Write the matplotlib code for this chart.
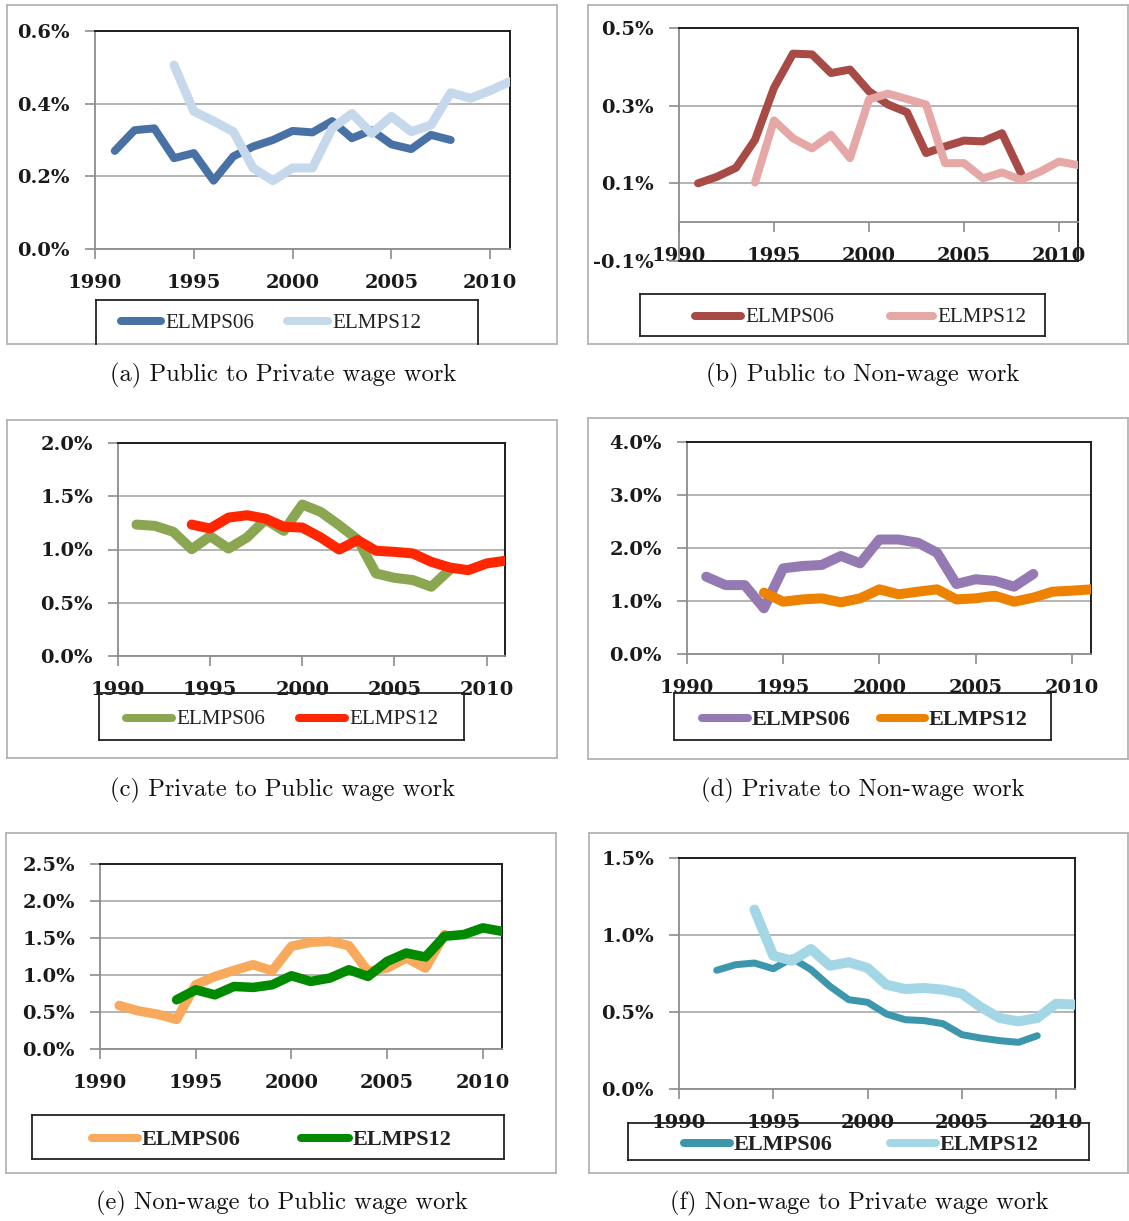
import matplotlib
matplotlib.use("Agg")
import matplotlib.pyplot as plt
from matplotlib.lines import Line2D
from matplotlib.ticker import FuncFormatter

# ---- data: annual transition rates (%) by survey wave ----
years_ticks = [1990, 1995, 2000, 2005, 2010]
series_names = ["ELMPS06", "ELMPS12"]

a06_start, a12_start = 1991, 1994
a06 = [0.27, 0.327, 0.332, 0.25, 0.264, 0.188, 0.255, 0.282, 0.30, 0.325,
       0.321, 0.352, 0.305, 0.327, 0.288, 0.275, 0.314, 0.30]
a12 = [0.506, 0.379, 0.352, 0.323, 0.223, 0.188, 0.223, 0.223, 0.332, 0.373,
       0.318, 0.365, 0.323, 0.341, 0.43, 0.415, 0.436, 0.461]

b06_start, b12_start = 1991, 1994
b06 = [0.10, 0.117, 0.14, 0.212, 0.346, 0.434, 0.432, 0.384, 0.393, 0.337,
       0.303, 0.283, 0.178, 0.195, 0.21, 0.208, 0.229, 0.126]
b12 = [0.102, 0.262, 0.216, 0.19, 0.225, 0.165, 0.316, 0.331, 0.317, 0.303,
       0.152, 0.152, 0.113, 0.128, 0.109, 0.13, 0.156, 0.147]

c06_start, c12_start = 1991, 1994
c06 = [1.234, 1.222, 1.166, 1.003, 1.125, 1.009, 1.113, 1.281, 1.175, 1.422,
       1.353, 1.228, 1.094, 0.775, 0.734, 0.713, 0.65, 0.81]
c12 = [1.234, 1.197, 1.30, 1.322, 1.29, 1.213, 1.206, 1.113, 1.0, 1.088,
       0.988, 0.978, 0.963, 0.884, 0.831, 0.806, 0.869, 0.894]

d06_start, d12_start = 1991, 1994
d06 = [1.459, 1.30, 1.30, 0.862, 1.616, 1.66, 1.68, 1.85, 1.71, 2.16,
       2.16, 2.10, 1.91, 1.32, 1.41, 1.38, 1.27, 1.51]
d12 = [1.157, 0.987, 1.03, 1.05, 0.975, 1.05, 1.22, 1.126, 1.176, 1.22,
       1.03, 1.05, 1.10, 0.987, 1.063, 1.176, 1.195, 1.22]

e06_start, e12_start = 1991, 1994
e06 = [0.588, 0.515, 0.47, 0.40, 0.868, 0.98, 1.062, 1.139, 1.058, 1.388,
       1.442, 1.456, 1.397, 1.049, 1.094, 1.23, 1.094, 1.546]
e12 = [0.665, 0.80, 0.732, 0.845, 0.832, 0.868, 0.99, 0.913, 0.958, 1.071,
       0.981, 1.184, 1.297, 1.243, 1.524, 1.546, 1.637, 1.59]

f06_start, f12_start = 1992, 1994
f06 = [0.771, 0.807, 0.818, 0.781, 0.85, 0.775, 0.667, 0.58, 0.563, 0.487,
       0.45, 0.444, 0.424, 0.353, 0.331, 0.314, 0.303, 0.346]
f12 = [1.165, 0.866, 0.833, 0.909, 0.80, 0.823, 0.786, 0.677, 0.649, 0.656,
       0.645, 0.619, 0.532, 0.461, 0.439, 0.461, 0.554, 0.548]

captions = ["(a) Public to Private wage work", "(b) Public to Non-wage work",
            "(c) Private to Public wage work", "(d) Private to Non-wage work",
            "(e) Non-wage to Public wage work", "(f) Non-wage to Private wage work"]

# ---- figure in pixel units ----
W, H, DPI = 1129, 1221, 100
fig = plt.figure(figsize=(W / DPI, H / DPI), dpi=DPI)


def fx(px):
    return px / W


def fy(py):
    return 1 - py / H


def pt(px):
    return px * 72.0 / DPI


def rect_lines(l, t, r, b, color, lw, open_bottom=False):
    segs = [([l, r], [t, t]), ([l, l], [t, b]), ([r, r], [t, b])]
    if not open_bottom:
        segs.append(([l, r], [b, b]))
    for xs, ys in segs:
        fig.add_artist(Line2D([fx(x) for x in xs], [fy(y) for y in ys],
                              color=color, lw=lw, solid_capstyle="projecting"))


panels = [
    dict(s06=(a06_start, a06), s12=(a12_start, a12), colors=("#4872a6", "#c5d8ec"),
         widths=(8, 9), ylim=(0, 0.6), yticks=[0, 0.2, 0.4, 0.6], xaxis_at=None,
         plot=(95, 31, 510, 249), box=(7, 5, 557, 344),
         lbox=(96, 300, 478, 344), lopen=True,
         keys=[(117, 165), (283, 332)], ly=322, lbold=False, cap=(283, 375)),
    dict(s06=(b06_start, b06), s12=(b12_start, b12), colors=("#a84b46", "#e6a8a6"),
         widths=(8, 8), ylim=(-0.1, 0.5), yticks=[-0.1, 0.1, 0.3, 0.5], xaxis_at=0.0,
         plot=(679, 28, 1078, 261), box=(588, 5, 1128, 344),
         lbox=(640, 294, 1045, 336), lopen=False,
         keys=[(691, 745), (886, 937)], ly=317, lbold=False, cap=(863, 375)),
    dict(s06=(c06_start, c06), s12=(c12_start, c12), colors=("#8aa650", "#ff2600"),
         widths=(10, 10), ylim=(0, 2.0), yticks=[0, 0.5, 1.0, 1.5, 2.0], xaxis_at=None,
         plot=(118, 443, 505, 656), box=(7, 420, 557, 758),
         lbox=(99, 693, 464, 740), lopen=False,
         keys=[(122, 176), (295, 349)], ly=719, lbold=False, cap=(283, 790)),
    dict(s06=(d06_start, d06), s12=(d12_start, d12), colors=("#9479b3", "#ec8200"),
         widths=(10, 10), ylim=(0, 4.0), yticks=[0, 1.0, 2.0, 3.0, 4.0], xaxis_at=None,
         plot=(687, 442, 1091, 654), box=(588, 418, 1128, 759),
         lbox=(674, 693, 1051, 740), lopen=False,
         keys=[(698, 752), (876, 929)], ly=719, lbold=True, cap=(863, 790)),
    dict(s06=(e06_start, e06), s12=(e12_start, e12), colors=("#f9a95b", "#008a00"),
         widths=(9.5, 9.5), ylim=(0, 2.5), yticks=[0, 0.5, 1.0, 1.5, 2.0, 2.5], xaxis_at=None,
         plot=(100, 864, 502, 1049), box=(6, 833, 556, 1173),
         lbox=(32, 1115, 504, 1159), lopen=False,
         keys=[(88, 142), (297, 353)], ly=1139, lbold=True, cap=(282, 1203)),
    dict(s06=(f06_start, f06), s12=(f12_start, f12), colors=("#3c97ad", "#a4d7e6"),
         widths=(7, 10), ylim=(0, 1.5), yticks=[0, 0.5, 1.0, 1.5], xaxis_at=None,
         plot=(679, 858, 1075, 1089), box=(589, 833, 1128, 1173),
         lbox=(628, 1123, 1089, 1160), lopen=False,
         keys=[(680, 734), (886, 940)], ly=1144, lbold=True, cap=(859, 1203)),
]

AXIS_GRAY = "#8c8c8c"
GRID_GRAY = "#a8a8a8"
BORDER = "#1e1e1e"
TICK_FONT = dict(family="DejaVu Serif", weight="bold", size=14, color="#1a1a1a")
pct = FuncFormatter(lambda v, _: f"{v:.1f}%")

for p, cap in zip(panels, captions):
    # outer frame around each chart
    rect_lines(*p["box"], color="#b4b4b4", lw=1.3)

    l, t, r, b = p["plot"]
    ax = fig.add_axes([fx(l), fy(b), fx(r) - fx(l), (b - t) / H])
    ax.set_xlim(1990, 2011)
    ax.set_ylim(*p["ylim"])
    ax.set_xticks(years_ticks)
    ax.set_yticks(p["yticks"])
    ax.yaxis.set_major_formatter(pct)
    ax.yaxis.grid(True, color=GRID_GRAY, lw=1.2)
    ax.set_axisbelow(True)

    for side in ("top", "right"):
        ax.spines[side].set_color(BORDER)
        ax.spines[side].set_linewidth(1.4)
    ax.spines["left"].set_color(AXIS_GRAY)
    ax.spines["left"].set_linewidth(1.3)
    ax.spines["bottom"].set_color(AXIS_GRAY)
    ax.spines["bottom"].set_linewidth(1.3)
    if p["xaxis_at"] is not None:
        ax.spines["bottom"].set_position(("data", p["xaxis_at"]))
        ax.plot([0, 1], [0, 0], transform=ax.transAxes, color=BORDER,
                lw=1.4, clip_on=False, zorder=5)

    ax.tick_params(direction="out", length=7, width=1.2, color=AXIS_GRAY, pad=11)
    for lab in ax.get_xticklabels() + ax.get_yticklabels():
        lab.set_fontfamily(TICK_FONT["family"])
        lab.set_fontweight(TICK_FONT["weight"])
        lab.set_fontsize(TICK_FONT["size"])
        lab.set_color(TICK_FONT["color"])

    for (start, vals), col, w in zip((p["s06"], p["s12"]), p["colors"], p["widths"]):
        yrs = list(range(start, start + len(vals)))
        ax.plot(yrs, vals, color=col, lw=pt(w), solid_capstyle="round",
                solid_joinstyle="round", zorder=3)

    # legend box with line keys
    lbl, lbt, lbr, lbb = p["lbox"]
    rect_lines(lbl, lbt, lbr, lbb, color="#222222", lw=1.3, open_bottom=p["lopen"])
    for (k0, k1), col, w, name in zip(p["keys"], p["colors"], p["widths"], series_names):
        fig.add_artist(Line2D([fx(k0 + 4), fx(k1 - 4)], [fy(p["ly"] - 1)] * 2,
                              color=col, lw=pt(8), solid_capstyle="round"))
        fig.text(fx(k1), fy(p["ly"] + 1), name, ha="left", va="center",
                 family="Liberation Serif", size=16 if p["lbold"] else 15.2,
                 weight="bold" if p["lbold"] else "normal", color="#222222")

    # sub-caption below the chart
    cx, cy = p["cap"]
    fig.text(fx(cx), fy(cy), cap, ha="center", va="center",
             family="cmr10", size=17.7, color="#111111")

fig.savefig("out.png", dpi=DPI, facecolor="white")
